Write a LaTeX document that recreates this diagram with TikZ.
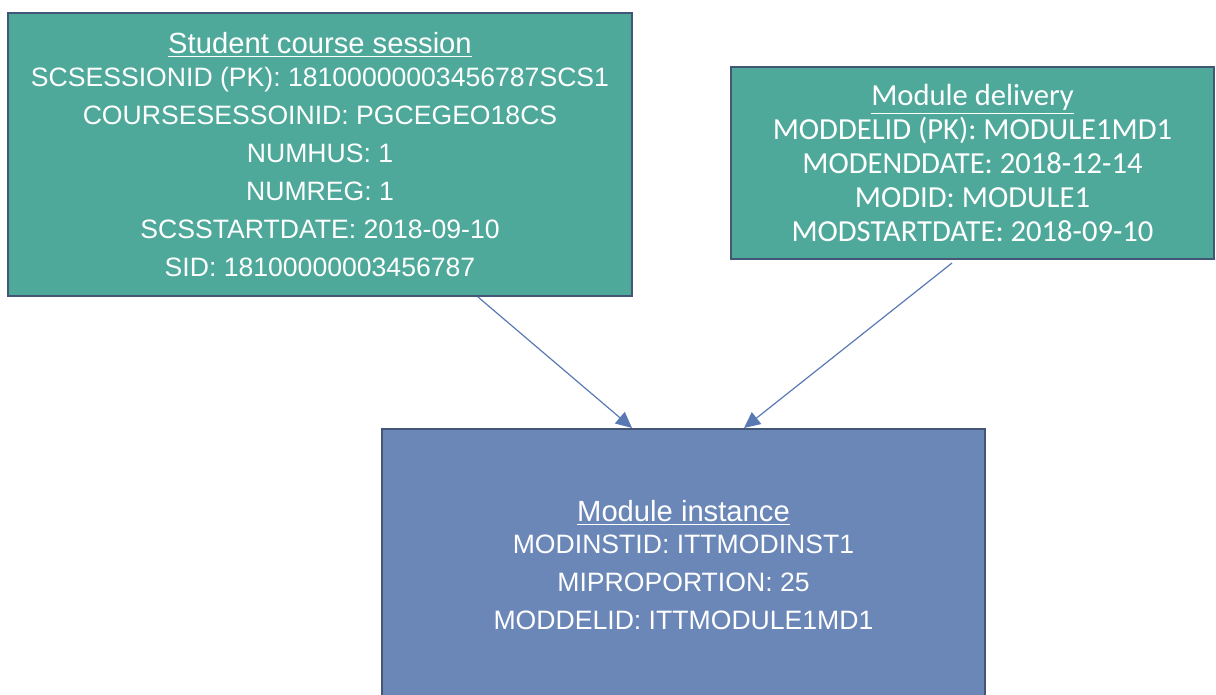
\documentclass[tikz,border=0pt]{standalone}
\usepackage{fontspec}
\setmainfont{Liberation Sans}
\newfontfamily\calibrifont{Carlito}
\usetikzlibrary{arrows.meta}
\definecolor{tealfill}{RGB}{78,169,154}
\definecolor{bluefill}{RGB}{106,135,184}
\definecolor{boxedge}{RGB}{68,86,118}
\definecolor{linkblue}{RGB}{88,121,180}
\tikzstyle{entity} = [rectangle, inner sep=0pt, align=center, text=white, draw=boxedge, line width=1pt]
\tikzstyle{arialtext} = [font=\fontsize{13.3}{19}\selectfont]
\tikzstyle{calibritext} = [font=\calibrifont\fontsize{15.3}{17}\selectfont]
\tikzstyle{arrow} = [draw=linkblue, line width=0.6pt, -{Triangle[length=8pt,width=7.5pt]}]

\begin{document}
\begin{tikzpicture}
	\useasboundingbox (0,0) rectangle (608pt,-347.5pt);
	\node (scs) [entity, arialtext, fill=tealfill, minimum width=312pt, minimum height=141.5pt] at (160pt,-77.25pt) {{\fontsize{14.6}{19}\selectfont\underline{Student course session}}\\[-2.5pt]
		SCSESSIONID (PK): 18100000003456787SCS1\\
		COURSESESSOINID: PGCEGEO18CS\\
		NUMHUS: 1\\
		NUMREG: 1\\
		SCSSTARTDATE: 2018-09-10\\
		SID: 18100000003456787};
	\node (md) [entity, calibritext, fill=tealfill, minimum width=241.5pt, minimum height=96pt] at (486.25pt,-81.5pt) {\underline{Module delivery}\\
		MODDELID (PK): MODULE1MD1\\
		MODENDDATE: 2018-12-14\\
		MODID: MODULE1\\
		MODSTARTDATE: 2018-09-10};
	\node (mi) [entity, arialtext, fill=bluefill, minimum width=301.5pt, minimum height=136pt] at (341.75pt,-282.5pt) {{\fontsize{14.6}{19}\selectfont\underline{Module instance}}\\[-3pt]
		MODINSTID: ITTMODINST1\\
		MIPROPORTION: 25\\
		MODDELID: ITTMODULE1MD1};
	\draw [arrow] ([xshift=79pt]scs.south) -- ([xshift=-25.75pt]mi.north);
	\draw [arrow] ([xshift=-10.25pt,yshift=-1.5pt]md.south) -- ([xshift=30.25pt]mi.north);
\end{tikzpicture}
\end{document}
